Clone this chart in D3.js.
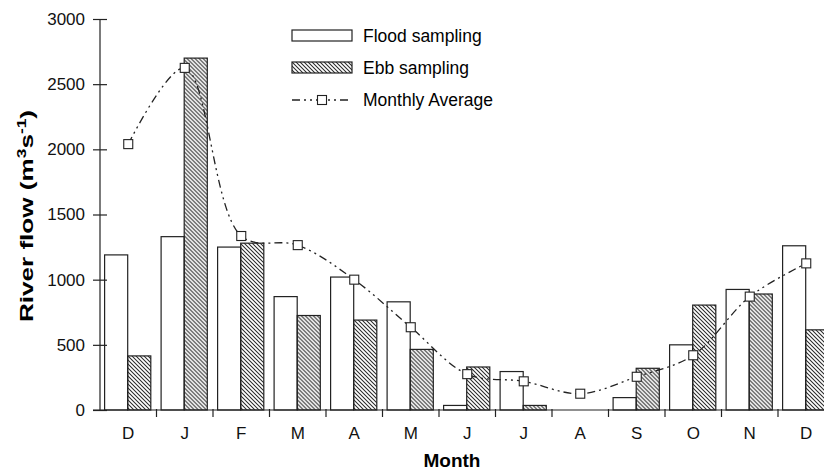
<!DOCTYPE html>
<html lang="en">
<head>
    <meta charset="UTF-8">
    <title>River flow by month</title>
    <script src="https://d3js.org/d3.v7.min.js"></script>
    <style>
        body { margin: 0; background: #fff; font-family: "Liberation Sans", Arial, sans-serif; }
        .tick text { font-size: 17px; fill: #111; }
        .axis path, .axis line { stroke: #222; stroke-width: 1.2px; }
    </style>
</head>
<body>
<div id="chart"></div>
<script>
    // values
    const months = ["D", "J", "F", "M", "A", "M", "J", "J", "A", "S", "O", "N", "D"];
    const flood = [1190, 1330, 1250, 870, 1020, 830, 35, 295, 0, 95, 500, 925, 1260];
    const ebb = [415, 2700, 1280, 725, 690, 465, 330, 35, 0, 320, 805, 890, 615];
    const monthlyAvg = [2040, 2625, 1335, 1265, 1000, 635, 275, 220, 125, 255, 420, 870, 1125];
    const yTicks = [0, 500, 1000, 1500, 2000, 2500, 3000];

    const width = 824, height = 470;
    const svg = d3.select("#chart").append("svg")
        .attr("width", width)
        .attr("height", height);

    // hatch for ebb bars
    svg.append("defs").append("pattern")
        .attr("id", "hatch")
        .attr("patternUnits", "userSpaceOnUse")
        .attr("width", 4).attr("height", 4)
        .append("path")
        .attr("d", "M-1,-1 L5,5 M3,-1 L5,1 M-1,3 L1,5")
        .attr("stroke", "#2a2a2a")
        .attr("stroke-width", 1.05);

    const idx = months.map((m, i) => i);
    const x = d3.scaleBand().domain(idx).range([100, 834.5]).padding(0);
    const xSub = d3.scaleBand().domain(["flood", "ebb"]).range([4.6, 50.8]);
    const y = d3.scaleLinear().domain([0, 3000]).range([410, 19]);

    // bars
    const groups = svg.append("g").selectAll("g")
        .data(idx)
        .enter().append("g")
        .attr("transform", i => `translate(${x(i)},0)`);

    groups.append("rect")
        .attr("x", xSub("flood"))
        .attr("width", xSub.bandwidth())
        .attr("y", i => y(flood[i]))
        .attr("height", i => y(0) - y(flood[i]))
        .attr("fill", "#fff")
        .attr("stroke", i => flood[i] > 0 ? "#222" : "none")
        .attr("stroke-width", 1.2);

    groups.append("rect")
        .attr("x", xSub("ebb"))
        .attr("width", xSub.bandwidth())
        .attr("y", i => y(ebb[i]))
        .attr("height", i => y(0) - y(ebb[i]))
        .attr("fill", "url(#hatch)")
        .attr("stroke", i => ebb[i] > 0 ? "#222" : "none")
        .attr("stroke-width", 1.2);

    // monthly average line
    const line = d3.line()
        .x(i => x(i) + x.bandwidth() / 2)
        .y(i => y(monthlyAvg[i]))
        .curve(d3.curveCatmullRom.alpha(0.5));

    svg.append("path")
        .datum(idx)
        .attr("d", line)
        .attr("fill", "none")
        .attr("stroke", "#222")
        .attr("stroke-width", 1.3)
        .attr("stroke-dasharray", "8,4,2,4,2,4");

    svg.append("g").selectAll("rect")
        .data(idx)
        .enter().append("rect")
        .attr("x", i => x(i) + x.bandwidth() / 2 - 4.5)
        .attr("y", i => y(monthlyAvg[i]) - 4.5)
        .attr("width", 9).attr("height", 9)
        .attr("fill", "#fff")
        .attr("stroke", "#222")
        .attr("stroke-width", 1.1);

    // axes
    svg.append("g")
        .attr("class", "axis")
        .attr("transform", "translate(100,0)")
        .call(d3.axisLeft(y).tickValues(yTicks).tickFormat(d3.format("d"))
            .tickSize(7).tickPadding(8).tickSizeOuter(0))
        .call(g => g.select(".domain").attr("d", `M0,${y(0)}V${y(3000)}`))
        .call(g => g.selectAll(".tick line").attr("x2", 7).attr("x1", -7));

    const xAxis = svg.append("g")
        .attr("class", "axis")
        .attr("transform", `translate(0,${y(0)})`);
    xAxis.append("line")
        .attr("x1", 93).attr("x2", width)
        .attr("stroke", "#222").attr("stroke-width", 1.2);
    xAxis.selectAll(".sep")
        .data(idx.slice(1))
        .enter().append("line")
        .attr("x1", i => x(i)).attr("x2", i => x(i))
        .attr("y1", -1).attr("y2", 7)
        .attr("stroke", "#222").attr("stroke-width", 1.2);
    xAxis.selectAll(".mlab")
        .data(idx)
        .enter().append("text")
        .attr("x", i => x(i) + x.bandwidth() / 2)
        .attr("y", 29)
        .attr("text-anchor", "middle")
        .attr("font-size", 17)
        .attr("fill", "#111")
        .text(i => months[i]);

    // axis titles
    svg.append("text")
        .attr("x", 452).attr("y", 467)
        .attr("text-anchor", "middle")
        .attr("font-size", 19).attr("font-weight", "bold")
        .text("Month");

    const yTitle = svg.append("text")
        .attr("transform", "translate(33,216) rotate(-90) scale(1.45,1)")
        .attr("text-anchor", "middle")
        .attr("font-size", 18).attr("font-weight", "bold");
    yTitle.append("tspan").text("River flow (m");
    yTitle.append("tspan").attr("dy", -7).attr("font-size", 12).text("3");
    yTitle.append("tspan").attr("dy", 7).text("s");
    yTitle.append("tspan").attr("dy", -7).attr("font-size", 12).text("-1");
    yTitle.append("tspan").attr("dy", 7).text(")");

    // legend
    const legend = svg.append("g").attr("transform", "translate(292,30)");
    legend.append("rect").attr("width", 60).attr("height", 11)
        .attr("fill", "#fff").attr("stroke", "#222").attr("stroke-width", 1.2);
    legend.append("text").attr("x", 71).attr("y", 12).attr("font-size", 17.5).text("Flood sampling");
    legend.append("rect").attr("y", 32).attr("width", 60).attr("height", 11)
        .attr("fill", "url(#hatch)").attr("stroke", "#222").attr("stroke-width", 1.2);
    legend.append("text").attr("x", 71).attr("y", 44).attr("font-size", 17.5).text("Ebb sampling");
    legend.append("line").attr("x1", 0).attr("x2", 60).attr("y1", 70).attr("y2", 70)
        .attr("stroke", "#222").attr("stroke-width", 1.3)
        .attr("stroke-dasharray", "8,4,2,4,2,4");
    legend.append("rect").attr("x", 25.5).attr("y", 65.5).attr("width", 9).attr("height", 9)
        .attr("fill", "#fff").attr("stroke", "#222").attr("stroke-width", 1.1);
    legend.append("text").attr("x", 71).attr("y", 76).attr("font-size", 17.5).text("Monthly Average");
</script>
</body>
</html>
